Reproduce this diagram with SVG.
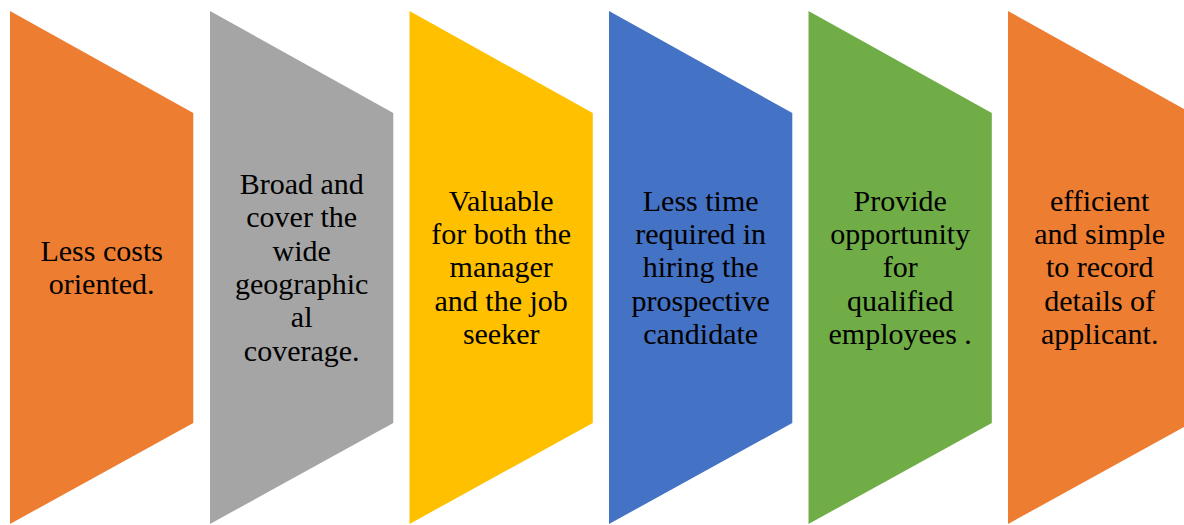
<svg xmlns="http://www.w3.org/2000/svg" width="1184" height="525" viewBox="0 0 1184 525">
  <style>
    .lbl { font-family: "Liberation Serif", "Times New Roman", serif; font-size: 30px; fill: #000; text-anchor: middle; }
  </style>
  <defs>
    <!-- chevron-like pentagon step, 183 wide -->
    <path id="step" d="M0,11 L183.3,113 L183.3,423 L0,524 Z"/>
  </defs>
  <rect width="1184" height="525" fill="#ffffff"/>

  <g id="node1" transform="translate(10,0)">
    <use href="#step" fill="#ED7D31"/>
    <text class="lbl" x="91.7"><tspan x="91.7" y="260.6">Less costs</tspan><tspan x="91.7" y="293.9">oriented.</tspan></text>
  </g>

  <g id="node2" transform="translate(210,0)">
    <use href="#step" fill="#A5A5A5"/>
    <text class="lbl" x="91.7"><tspan x="91.7" y="194">Broad and</tspan><tspan x="91.7" y="227.3">cover the</tspan><tspan x="91.7" y="260.6">wide</tspan><tspan x="91.7" y="293.9">geographic</tspan><tspan x="91.7" y="327.2">al</tspan><tspan x="91.7" y="360.5">coverage.</tspan></text>
  </g>

  <g id="node3" transform="translate(409.5,0)">
    <use href="#step" fill="#FFC000"/>
    <text class="lbl" x="91.7"><tspan x="91.7" y="210.7">Valuable</tspan><tspan x="91.7" y="244">for both the</tspan><tspan x="91.7" y="277.3">manager</tspan><tspan x="91.7" y="310.6">and the job</tspan><tspan x="91.7" y="343.9">seeker</tspan></text>
  </g>

  <g id="node4" transform="translate(609,0)">
    <use href="#step" fill="#4472C4"/>
    <text class="lbl" x="91.7"><tspan x="91.7" y="210.7">Less time</tspan><tspan x="91.7" y="244">required in</tspan><tspan x="91.7" y="277.3">hiring the</tspan><tspan x="91.7" y="310.6">prospective</tspan><tspan x="91.7" y="343.9">candidate</tspan></text>
  </g>

  <g id="node5" transform="translate(808.5,0)">
    <use href="#step" fill="#70AD47"/>
    <text class="lbl" x="91.7"><tspan x="91.7" y="210.7">Provide</tspan><tspan x="91.7" y="244">opportunity</tspan><tspan x="91.7" y="277.3">for</tspan><tspan x="91.7" y="310.6">qualified</tspan><tspan x="91.7" y="343.9">employees .</tspan></text>
  </g>

  <g id="node6" transform="translate(1008,0)">
    <use href="#step" fill="#ED7D31"/>
    <text class="lbl" x="91.7"><tspan x="91.7" y="210.7">efficient</tspan><tspan x="91.7" y="244">and simple</tspan><tspan x="91.7" y="277.3">to record</tspan><tspan x="91.7" y="310.6">details of</tspan><tspan x="91.7" y="343.9">applicant.</tspan></text>
  </g>

  <g id="connectors"/>
</svg>
